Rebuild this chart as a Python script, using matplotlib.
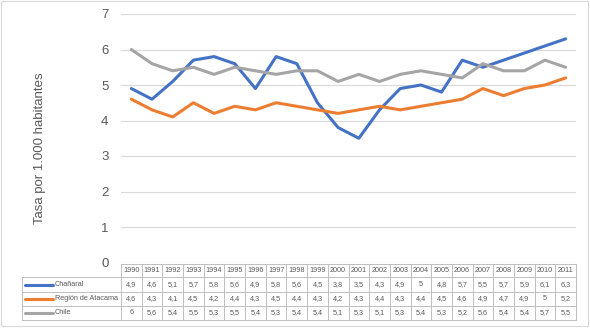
import numpy as np
import matplotlib.pyplot as plt
from matplotlib.transforms import blended_transform_factory
from matplotlib.lines import Line2D
from matplotlib.patches import Rectangle

years = [str(y) for y in range(1990, 2012)]
chanaral = [4.9, 4.6, 5.1, 5.7, 5.8, 5.6, 4.9, 5.8, 5.6, 4.5, 3.8, 3.5, 4.3, 4.9, 5, 4.8, 5.7, 5.5, 5.7, 5.9, 6.1, 6.3]
atacama = [4.6, 4.3, 4.1, 4.5, 4.2, 4.4, 4.3, 4.5, 4.4, 4.3, 4.2, 4.3, 4.4, 4.3, 4.4, 4.5, 4.6, 4.9, 4.7, 4.9, 5, 5.2]
chile = [6, 5.6, 5.4, 5.5, 5.3, 5.5, 5.4, 5.3, 5.4, 5.4, 5.1, 5.3, 5.1, 5.3, 5.4, 5.3, 5.2, 5.6, 5.4, 5.4, 5.7, 5.5]
series_names = ["Chañaral", "Región de Atacama", "Chile"]
series = [chanaral, atacama, chile]
colors = ["#4472C4", "#ED7D31", "#A5A5A5"]

W, H = 590, 328
fig = plt.figure(figsize=(W / 100, H / 100), dpi=100)
plt.rcParams['font.family'] = ['Liberation Sans', 'DejaVu Sans']

def fy(py):
    return 1 - py / H

def fx(px):
    return px / W

ax = fig.add_axes([fx(121), fy(262.5), fx(576) - fx(121), fy(14) - fy(262.5)])
x = np.arange(len(years))
for vals, c, name in zip(series, colors, series_names):
    ax.plot(x, vals, color=c, lw=2.2, label=name, solid_capstyle='round')

ax.set_xlim(-0.5, len(years) - 0.5)
ax.set_ylim(0, 7)
ax.set_yticks(range(0, 8))
ax.yaxis.grid(True, color="#D9D9D9", lw=0.8)
ax.set_axisbelow(True)
ax.set_xticks([])
for s in ax.spines.values():
    s.set_visible(False)
ax.tick_params(axis='y', length=0, labelsize=9.5, labelcolor="#595959", pad=9)
ax.set_ylabel("Tasa por 1.000 habitantes", fontsize=9.5, color="#595959")
ax.yaxis.set_label_coords(-0.165, 0.46)

# data table below the plot
tr = blended_transform_factory(ax.transData, fig.transFigure)
rows_px = [264, 277, 292, 306, 320]
lc = "#BFBFBF"
tc = "#595959"
fs = 5.2
for i, py in enumerate(rows_px):
    ax.plot([-0.5, len(years) - 0.5], [fy(py), fy(py)], transform=tr, color=lc, lw=0.7, clip_on=False)
for k in range(len(years) + 1):
    ax.plot([k - 0.5, k - 0.5], [fy(264), fy(320)], transform=tr, color=lc, lw=0.7, clip_on=False)
for py in rows_px[1:]:
    fig.add_artist(Line2D([fx(22), fx(121)], [fy(py), fy(py)], color=lc, lw=0.7))
fig.add_artist(Line2D([fx(22), fx(22)], [fy(277), fy(320)], color=lc, lw=0.7))

for k, yr in enumerate(years):
    ax.text(k, fy((264 + 277) / 2), yr, transform=tr, ha='center', va='center', fontsize=fs, color=tc)
for r, (vals, c, name) in enumerate(zip(series, colors, series_names)):
    yc = fy((rows_px[r + 1] + rows_px[r + 2]) / 2)
    fig.add_artist(Line2D([fx(25), fx(53)], [yc, yc], color=c, lw=2.2, solid_capstyle='round'))
    fig.text(fx(55), yc, name, ha='left', va='center', fontsize=fs, color=tc)
    for k, v in enumerate(vals):
        ax.text(k, yc, ("%g" % v).replace('.', ','), transform=tr, ha='center', va='center', fontsize=fs, color=tc)

fig.add_artist(Rectangle((fx(1), fy(326)), fx(587), fy(1) - fy(326), fill=False, edgecolor="#D9D9D9", lw=0.8))

plt.savefig("out.png", dpi=100)
